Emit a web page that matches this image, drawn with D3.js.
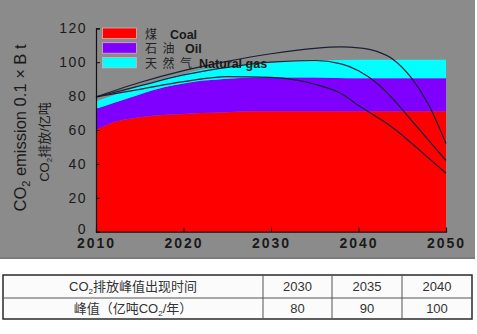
<!DOCTYPE html>
<html>
<head>
<meta charset="utf-8">
<script src="https://cdn.jsdelivr.net/npm/d3@7"></script>
<style>
  html, body { margin: 0; padding: 0; background: #ffffff; }
  svg { display: block; }
  text { font-family: "Liberation Sans", Arial, "Noto Sans CJK SC", sans-serif; }
</style>
</head>
<body>
<svg id="chart" width="477" height="334"></svg>
<script>
// Stacked emissions by source (0.1 billion tonnes CO2)
const years = [2010, 2012, 2015, 2018, 2020, 2022, 2025, 2028, 2030, 2035, 2040, 2045, 2050];
const coal  = [60, 64.5, 67.5, 69, 69.5, 70, 70.5, 71, 71, 71, 71, 71, 71];
const oil   = [12.5, 11.5, 13.5, 16.5, 18, 19, 19.8, 20, 20, 20, 19.5, 19.5, 19.5];
const gas   = [4.5, 4.5, 5, 5, 5.5, 6.5, 7.2, 8.3, 9, 10, 11, 11, 11];

// Peak-scenario trajectories
const lineYears = [2010, 2015, 2020, 2025, 2030, 2035, 2038, 2040, 2042, 2044, 2046, 2048, 2050];
const peak2040  = [79.5, 88, 95, 100.5, 105, 108.2, 109, 108.5, 106.5, 101.5, 91, 75, 52];
const peak2035  = [79.5, 86, 92.5, 97, 100, 101, 99, 95, 88, 78, 66, 54, 42];
const peak2030  = [79.5, 84, 88.5, 91.5, 91, 87, 81.5, 74.5, 68, 61, 52.5, 43.5, 34.5];

const xTicks = [2010, 2020, 2030, 2040, 2050];
const yTicks = [0, 20, 40, 60, 80, 100, 120];

const seriesZh = ["煤", "石油", "天然气"];
const seriesEn = ["Coal", "Oil", "Natural gas"];
const seriesColors = ["#ff0000", "#7f00ff", "#00ffff"];

// Peak table
const tableHeader = ["CO₂排放峰值出现时间", "2030", "2035", "2040"];
const tablePeaks = ["峰值（亿吨CO₂/年）", "80", "90", "100"];

const svg = d3.select("#chart");

// grey panel behind the chart
svg.append("rect").attr("x", 0).attr("y", 0).attr("width", 475).attr("height", 259).attr("fill", "#8b8b8b");
svg.append("rect").attr("x", 0).attr("y", 257).attr("width", 475).attr("height", 2).attr("fill", "#7a7a7a");

const x = d3.scaleLinear().domain([2010, 2050]).range([96, 446]);
const y = d3.scaleLinear().domain([0, 120]).range([231.7, 28.3]);

const rows = years.map((yr, i) => ({ year: yr, coal: coal[i], oil: oil[i], gas: gas[i] }));
const stack = d3.stack().keys(["coal", "oil", "gas"]);
const layers = stack(rows);

const area = d3.area()
  .x(d => x(d.data.year))
  .y0(d => y(d[0]))
  .y1(d => y(d[1]))
  .curve(d3.curveMonotoneX);

svg.append("g").selectAll("path")
  .data(layers)
  .join("path")
  .attr("d", area)
  .attr("fill", (d, i) => seriesColors[i]);

// scenario lines
const line = d3.line()
  .x(d => x(d[0]))
  .y(d => y(d[1]))
  .curve(d3.curveMonotoneX);

[peak2040, peak2035, peak2030].forEach(vals => {
  svg.append("path")
    .attr("d", line(lineYears.map((yr, i) => [yr, vals[i]])))
    .attr("fill", "none")
    .attr("stroke", "#1b1f3a")
    .attr("stroke-width", 1.2);
});

// axes
const yAxis = d3.axisLeft(y).tickValues(yTicks).tickSize(-4).tickPadding(10);
const gy = svg.append("g").attr("transform", "translate(96,0)").call(yAxis);
gy.select(".domain").attr("stroke", "#111").attr("stroke-width", 1.2);
gy.selectAll(".tick line").attr("stroke", "#111");
gy.selectAll(".tick text")
  .attr("fill", "#1a1a1a").attr("font-size", 14).attr("letter-spacing", "1.5px")
  .attr("dx", "1px");
gy.selectAll(".tick").filter(d => d === 0).select("text").attr("dy", "0.1em");

const xAxis = d3.axisBottom(x).tickValues(xTicks).tickSize(-4).tickPadding(6).tickFormat(d3.format("d"));
const gx = svg.append("g").attr("transform", "translate(0,231.7)").call(xAxis);
gx.select(".domain").attr("stroke", "#111").attr("stroke-width", 1.2);
gx.selectAll(".tick line").attr("stroke", "#111");
gx.selectAll(".tick text")
  .attr("fill", "#1a1a1a").attr("font-size", 14).attr("font-weight", "bold").attr("letter-spacing", "2px");

// y titles
const t1 = svg.append("text")
  .attr("transform", "translate(26,128) rotate(-90)")
  .attr("text-anchor", "middle").attr("font-size", 16.5).attr("fill", "#1a1a1a");
t1.append("tspan").text("CO");
t1.append("tspan").text("2").attr("font-size", 11).attr("dy", 4);
t1.append("tspan").text(" emission 0.1 × B t").attr("dy", -4);

const t2 = svg.append("text")
  .attr("transform", "translate(49,142) rotate(-90)")
  .attr("text-anchor", "middle").attr("font-size", 13).attr("fill", "#1a1a1a");
t2.append("tspan").text("CO");
t2.append("tspan").text("2").attr("font-size", 8).attr("dy", 3);
t2.append("tspan").text("排放/亿吨").attr("dy", -3);

// legend: swatch, spaced Chinese name, English name
const enX = [170, 185, 199];
const legend = svg.append("g");
seriesZh.forEach((name, i) => {
  const ly = 28 + i * 14.7;
  legend.append("rect")
    .attr("x", 102.5).attr("y", ly).attr("width", 34).attr("height", 10.5)
    .attr("fill", seriesColors[i]).attr("stroke", "#d9b0b0").attr("stroke-width", 0.8);
  legend.append("text")
    .attr("x", 145).attr("y", ly + 10.5)
    .attr("font-size", 12).attr("fill", "#222").attr("letter-spacing", "5.5px")
    .text(name);
  legend.append("text")
    .attr("x", enX[i]).attr("y", ly + 10.5)
    .attr("font-size", 12.5).attr("font-weight", "bold").attr("fill", "#1a1a1a")
    .text(seriesEn[i]);
});

// peak table
const colX = [3, 263, 332, 402, 472];
const rowY = [275, 298, 319];
const tbl = svg.append("g");
tbl.append("rect").attr("x", colX[0]).attr("y", rowY[0])
  .attr("width", colX[4] - colX[0]).attr("height", rowY[2] - rowY[0])
  .attr("fill", "#fbfbfb").attr("stroke", "#2a2a2a").attr("stroke-width", 1.5);
tbl.append("line").attr("x1", colX[0]).attr("x2", colX[4]).attr("y1", rowY[1]).attr("y2", rowY[1])
  .attr("stroke", "#555").attr("stroke-width", 1);
colX.slice(1, 4).forEach(cx => {
  tbl.append("line").attr("x1", cx).attr("x2", cx).attr("y1", rowY[0]).attr("y2", rowY[2])
    .attr("stroke", "#555").attr("stroke-width", 1);
});

function cellText(str, cx, cy) {
  const t = tbl.append("text").attr("x", cx).attr("y", cy)
    .attr("text-anchor", "middle").attr("font-size", 13).attr("fill", "#333");
  const parts = str.split("₂");
  if (parts.length === 1) { t.text(str); return; }
  t.append("tspan").text(parts[0]);
  t.append("tspan").text("2").attr("font-size", 8).attr("dy", 3);
  t.append("tspan").text(parts[1]).attr("dy", -3);
}
[tableHeader, tablePeaks].forEach((row, r) => {
  row.forEach((s, c) => {
    cellText(s, (colX[c] + colX[c + 1]) / 2, (rowY[r] + rowY[r + 1]) / 2 + 4.5);
  });
});
</script>
</body>
</html>
